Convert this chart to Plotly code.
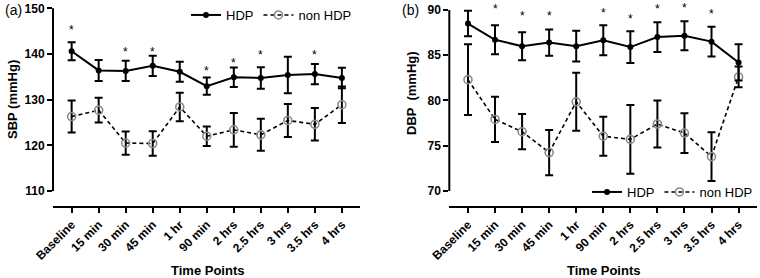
import plotly.graph_objects as go
from plotly.subplots import make_subplots

time_points = ["Baseline", "15 min", "30 min", "45 min", "1 hr", "90 min",
               "2 hrs", "2.5 hrs", "3 hrs", "3.5 hrs", "4 hrs"]

sbp_hdp = [140.6, 136.4, 136.3, 137.4, 136.1, 132.95, 134.9, 134.75, 135.4, 135.6, 134.75]
sbp_hdp_err = [1.95, 2.3, 2.2, 2.2, 2.2, 1.9, 2.15, 2.35, 4.0, 2.2, 2.25]
sbp_non = [126.3, 127.7, 120.5, 120.4, 128.4, 122.0, 123.4, 122.3, 125.45, 124.6, 128.9]
sbp_non_err = [3.5, 2.7, 2.55, 2.7, 3.1, 2.15, 3.7, 3.5, 3.6, 3.55, 4.0]

dbp_hdp = [88.5, 86.7, 86.0, 86.4, 86.0, 86.65, 85.9, 87.0, 87.15, 86.5, 84.2]
dbp_hdp_err = [1.4, 1.6, 1.55, 1.45, 1.7, 1.65, 1.75, 1.65, 1.6, 1.65, 2.0]
dbp_non = [82.3, 77.9, 76.55, 74.25, 79.85, 76.05, 75.7, 77.4, 76.4, 73.8, 82.6]
dbp_non_err = [3.9, 2.5, 1.95, 2.5, 3.2, 2.15, 3.8, 2.6, 2.2, 2.7, 1.15]

sbp_star_idx = [0, 2, 3, 5, 6, 7, 9]
sbp_star_y = [146.0, 141.2, 141.2, 137.0, 138.7, 140.4, 140.5]
dbp_star_idx = [1, 2, 3, 5, 6, 7, 8, 9]
dbp_star_y = [90.45, 89.7, 89.7, 90.05, 89.35, 90.45, 90.6, 89.9]

FONT = "Liberation Sans, Arial, sans-serif"
W, H = 760, 278
MB = 72
PH = H - MB

fig = make_subplots(rows=1, cols=2, horizontal_spacing=0.1)

def add_panel(col, hdp, hdp_err, non, non_err, legend_name):
    fig.add_trace(go.Scatter(
        x=time_points, y=non, name="non HDP", mode="lines+markers",
        line=dict(color="black", width=1.6, dash="4px,3px"),
        marker=dict(symbol="circle-open", size=8, color="#8a8a8a", line=dict(width=1.6, color="#8a8a8a")),
        error_y=dict(type="data", array=non_err, visible=True, color="black", thickness=2, width=4),
        legend=legend_name, legendrank=2,
    ), row=1, col=col)
    fig.add_trace(go.Scatter(
        x=time_points, y=hdp, name="HDP", mode="lines+markers",
        line=dict(color="black", width=2),
        marker=dict(symbol="circle", size=6, color="black"),
        error_y=dict(type="data", array=hdp_err, visible=True, color="black", thickness=2, width=4),
        legend=legend_name, legendrank=1,
    ), row=1, col=col)

add_panel(1, sbp_hdp, sbp_hdp_err, sbp_non, sbp_non_err, "legend")
add_panel(2, dbp_hdp, dbp_hdp_err, dbp_non, dbp_non_err, "legend2")

annotations = []
for i, yv in zip(sbp_star_idx, sbp_star_y):
    annotations.append(dict(x=time_points[i], y=yv, xref="x", yref="y", text="*", showarrow=False,
                            xanchor="center", yanchor="middle",
                            font=dict(family=FONT, size=12, color="black"), yshift=-3))
for i, yv in zip(dbp_star_idx, dbp_star_y):
    annotations.append(dict(x=time_points[i], y=yv, xref="x2", yref="y2", text="*", showarrow=False,
                            xanchor="center", yanchor="middle",
                            font=dict(family=FONT, size=12, color="black"), yshift=-3))

def px_x(p):
    return p / W

def px_y(p):
    return 1 - p / PH

def label(x, y, text, size, angle=0):
    return dict(x=px_x(x), y=px_y(y), xref="paper", yref="paper", text=text, textangle=angle,
                xanchor="center", yanchor="middle", showarrow=False,
                font=dict(family=FONT, size=size, color="black"))

annotations += [
    label(12, 100, "<b>SBP (mmHg)</b>", 13, -90),
    label(411, 93, "<b>DBP  (mmHg)</b>", 13, -90),
    label(207, 270, "<b>Time Points</b>", 13),
    label(603, 270, "<b>Time Points</b>", 13),
    label(13, 10, "(a)", 14),
    label(410, 10, "(b)", 14),
]

shapes = [
    dict(type="line", xref="x domain", yref="y", x0=0, x1=0, y0=110, y1=150,
         line=dict(color="black", width=2)),
    dict(type="line", xref="x2 domain", yref="y2", x0=0, x1=0, y0=70, y1=90,
         line=dict(color="black", width=2)),
]

xcommon = dict(
    type="category", range=[-0.69, 10.67], showline=True, linecolor="black", linewidth=2,
    ticks="outside", ticklen=5, tickwidth=2, tickcolor="black", tickangle=-45,
    tickfont=dict(family=FONT, size=12, color="black", weight="bold"),
    showgrid=False, zeroline=False, automargin=False,
)
ycommon = dict(
    showline=False, ticks="outside", ticklen=5, tickwidth=2, tickcolor="black",
    tickfont=dict(family=FONT, size=12, color="black", weight="bold"),
    showgrid=False, zeroline=False, automargin=False,
)

fig.update_layout(
    width=W, height=H, template="none",
    margin=dict(l=0, r=0, t=0, b=MB),
    paper_bgcolor="white", plot_bgcolor="white",
    font=dict(family=FONT, color="black"),
    xaxis=dict(domain=[53 / W, 360 / W], **xcommon),
    xaxis2=dict(domain=[449.3 / W, 756.7 / W], **xcommon),
    yaxis=dict(range=[106.72, 151.82], tickvals=[110, 120, 130, 140, 150], **ycommon),
    yaxis2=dict(range=[68.34, 91.1], tickvals=[70, 75, 80, 85, 90], **ycommon),
    legend=dict(orientation="h", x=357 / W, xanchor="right", y=px_y(15), yanchor="middle",
                font=dict(family=FONT, size=13, color="black"), bgcolor="rgba(0,0,0,0)",
                itemwidth=30, tracegroupgap=0),
    legend2=dict(orientation="h", x=758 / W, xanchor="right", y=px_y(192), yanchor="middle",
                 font=dict(family=FONT, size=13, color="black"), bgcolor="rgba(0,0,0,0)",
                 itemwidth=30, tracegroupgap=0),
    annotations=annotations,
    shapes=shapes,
    showlegend=True,
)

fig.write_html("out.html", config={"displayModeBar": False},
               post_script="document.body.style.margin='0';document.body.style.padding='0';")
